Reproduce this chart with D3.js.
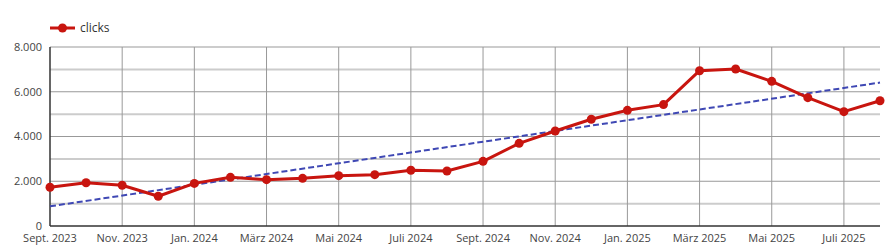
<!DOCTYPE html>
<html>
<head>
<meta charset="utf-8">
<script src="https://cdn.jsdelivr.net/npm/d3@7"></script>
<style>
  body { margin: 0; background: #fff; }
  svg { font-family: "Open Sans", sans-serif; }
</style>
</head>
<body>
<div id="chart"></div>
<script>
// months Sept. 2023 .. Aug. 2025
const months = ["2023-09", "2023-10", "2023-11", "2023-12", "2024-01", "2024-02", "2024-03", "2024-04",
    "2024-05", "2024-06", "2024-07", "2024-08", "2024-09", "2024-10", "2024-11", "2024-12",
    "2025-01", "2025-02", "2025-03", "2025-04", "2025-05", "2025-06", "2025-07", "2025-08"];
const clicks = [1730, 1935, 1820, 1330, 1905, 2175, 2070, 2130, 2250, 2295, 2490, 2460,
    2890, 3695, 4245, 4770, 5170, 5425, 6940, 7015, 6465, 5735, 5110, 5600];
// trend line, read at first and last month
const trend = [880, 6410];
const xLabels = {
    "2023-09": "Sept. 2023", "2023-11": "Nov. 2023", "2024-01": "Jan. 2024", "2024-03": "März 2024",
    "2024-05": "Mai 2024", "2024-07": "Juli 2024", "2024-09": "Sept. 2024", "2024-11": "Nov. 2024",
    "2025-01": "Jan. 2025", "2025-03": "März 2025", "2025-05": "Mai 2025", "2025-07": "Juli 2025"
};
const yTicks = [0, 2000, 4000, 6000, 8000];
const yMinor = [1000, 3000, 5000, 7000];

const width = 889, height = 249;
const margin = { top: 47, right: 9, bottom: 23, left: 50 };

const svg = d3.select("#chart").append("svg")
    .attr("width", width)
    .attr("height", height);

const x = d3.scalePoint()
    .domain(months)
    .range([margin.left, width - margin.right]);

const y = d3.scaleLinear()
    .domain([0, 8000])
    .range([height - margin.bottom, margin.top]);

const fmt = d3.formatLocale({ decimal: ",", thousands: ".", grouping: [3], currency: ["", "€"] }).format(",d");

// minor grid
svg.append("g").selectAll("line")
    .data(yMinor)
    .join("line")
    .attr("x1", margin.left).attr("x2", width - margin.right)
    .attr("y1", d => y(d)).attr("y2", d => y(d))
    .attr("stroke", "#cccccc").attr("stroke-width", 2);

// major grid
svg.append("g").selectAll("line")
    .data(yTicks.slice(1))
    .join("line")
    .attr("x1", margin.left).attr("x2", width - margin.right)
    .attr("y1", d => y(d)).attr("y2", d => y(d))
    .attr("stroke", "#999").attr("stroke-width", 1);

// vertical grid
svg.append("g").selectAll("line")
    .data(Object.keys(xLabels).slice(1))
    .join("line")
    .attr("x1", d => x(d)).attr("x2", d => x(d))
    .attr("y1", margin.top).attr("y2", height - margin.bottom)
    .attr("stroke", "#999").attr("stroke-width", 1);

// axes lines
svg.append("line")
    .attr("x1", margin.left).attr("x2", margin.left)
    .attr("y1", margin.top).attr("y2", height - margin.bottom)
    .attr("stroke", "#333").attr("stroke-width", 1.5);
svg.append("line")
    .attr("x1", margin.left).attr("x2", width - margin.right)
    .attr("y1", y(0)).attr("y2", y(0))
    .attr("stroke", "#333").attr("stroke-width", 1.5);

// y labels
svg.append("g").selectAll("text")
    .data(yTicks)
    .join("text")
    .attr("x", margin.left - 8)
    .attr("y", d => y(d))
    .attr("dy", "0.35em")
    .attr("text-anchor", "end")
    .attr("font-size", 11)
    .attr("fill", "#444")
    .text(d => fmt(d));

// x labels
svg.append("g").selectAll("text")
    .data(Object.keys(xLabels))
    .join("text")
    .attr("x", d => x(d))
    .attr("y", height - margin.bottom + 16)
    .attr("text-anchor", "middle")
    .attr("font-size", 11)
    .attr("fill", "#444")
    .text(d => xLabels[d]);

// trend
svg.append("line")
    .attr("x1", x(months[0])).attr("y1", y(trend[0]))
    .attr("x2", x(months[months.length - 1])).attr("y2", y(trend[1]))
    .attr("stroke", "#3f48b4")
    .attr("stroke-width", 2)
    .attr("stroke-dasharray", "6,3");

// clicks line
const line = d3.line()
    .x((d, i) => x(months[i]))
    .y(d => y(d));

svg.append("path")
    .datum(clicks)
    .attr("d", line)
    .attr("fill", "none")
    .attr("stroke", "#c8150f")
    .attr("stroke-width", 3)
    .attr("stroke-linejoin", "round");

svg.append("g").selectAll("circle")
    .data(clicks)
    .join("circle")
    .attr("cx", (d, i) => x(months[i]))
    .attr("cy", d => y(d))
    .attr("r", 4.5)
    .attr("fill", "#c8150f");

// legend
const legend = svg.append("g").attr("transform", "translate(50,28)");
legend.append("line")
    .attr("x1", 0).attr("x2", 25)
    .attr("stroke", "#c8150f").attr("stroke-width", 3);
legend.append("circle")
    .attr("cx", 12.5).attr("r", 4.5).attr("fill", "#c8150f");
legend.append("text")
    .attr("x", 30).attr("dy", "0.35em")
    .attr("font-size", 12)
    .attr("fill", "#333")
    .text("clicks");
</script>
</body>
</html>
